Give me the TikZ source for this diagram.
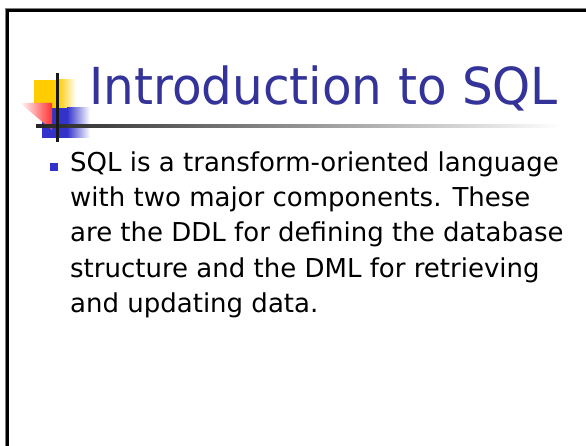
\documentclass[tikz,border=0pt]{standalone}
\usepackage{fontspec}
\setmainfont{DejaVu Sans}
\newfontfamily\titlefont{DejaVu Sans}[FakeStretch=0.95]
\definecolor{titleblue}{HTML}{333399}
\definecolor{logoyellow}{HTML}{FFCC00}
\definecolor{logoblue}{HTML}{3333CC}
\definecolor{logored}{HTML}{FF3333}
\definecolor{edgegray}{HTML}{808080}
\tikzset{
  bodyline/.style={anchor=base west, inner sep=0pt, font=\fontsize{26}{30}\selectfont, text=black},
  titletext/.style={anchor=base west, inner sep=0pt, font=\titlefont\fontsize{51}{56}\selectfont, text=titleblue}
}
\begin{document}
\begin{tikzpicture}[x=1pt, y=-1pt]
  \useasboundingbox (0,0) rectangle (586,446);
  \fill[white] (0,0) rectangle (586,446);

  % slide edge
  \draw[edgegray, line width=1pt] (5.6,446) -- (5.6,8.6) -- (586,8.6);
  \draw[black, line width=2.4pt] (7.4,446) -- (7.4,10.4) -- (586,10.4);

  % logo: yellow and blue squares fading to the right
  \fill[logoyellow] (34,80) rectangle (58,108);
  \shade[left color=logoyellow, right color=white] (58,80) rectangle (76,108);
  \fill[logoblue] (42,108) rectangle (67,138);
  \shade[left color=logoblue, right color=white] (67,108) rectangle (90,138);

  % logo: red wedge
  \shade[shading=axis, shading angle=135, left color=white, right color=logored]
    (20,103) -- (52,103) -- (52,130) -- cycle;

  % logo cross lines
  \shade[left color=black!85, right color=white] (36,125) rectangle (562,127.2);
  \fill[black!90] (56,73) rectangle (58.6,142);

  % title
  \node[titletext] (title) at (89,105) {Introduction to SQL};

  % bullet and body text
  \fill[logoblue] (50,163) rectangle (58,171);
  \node[bodyline] (l1) at (70,172) {SQL is a transform-oriented language};
  \node[bodyline] (l2) at (70,207) {with two major components. These};
  \node[bodyline] (l3) at (70,242) {are the DDL for defining the database};
  \node[bodyline] (l4) at (70,277) {structure and the DML for retrieving};
  \node[bodyline] (l5) at (70,312) {and updating data.};
\end{tikzpicture}
\end{document}
